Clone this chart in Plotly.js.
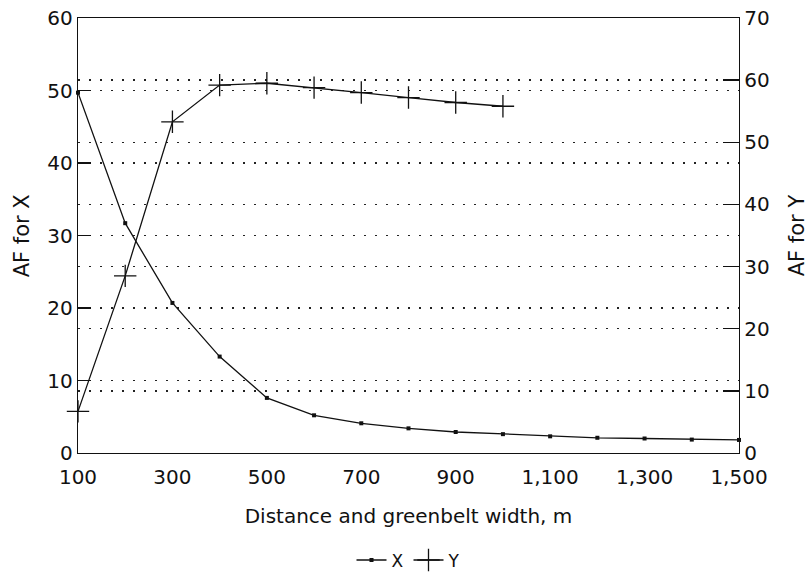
<!DOCTYPE html>
<html>
<head>
<meta charset="utf-8">
<script src="https://cdn.plot.ly/plotly-3.0.1.min.js"></script>
<style>html,body{margin:0;padding:0;background:#fff;}#chart{width:811px;height:573px;}</style>
</head>
<body>
<div id="chart"></div>
<script>
// Distance and greenbelt width, m
const distanceX = [100, 200, 300, 400, 500, 600, 700, 800, 900, 1000, 1100, 1200, 1300, 1400, 1500];
const afX = [49.7, 31.7, 20.7, 13.3, 7.6, 5.2, 4.1, 3.4, 2.9, 2.6, 2.3, 2.1, 2.0, 1.85, 1.8];
const distanceY = [100, 200, 300, 400, 500, 600, 700, 800, 900, 1000];
const afY = [6.7, 28.5, 53.3, 59.2, 59.5, 58.8, 58.0, 57.2, 56.4, 55.8];
const xTickVals = [100, 300, 500, 700, 900, 1100, 1300, 1500];
const xTickText = ["100", "300", "500", "700", "900", "1,100", "1,300", "1,500"];
const leftTicks = [0, 10, 20, 30, 40, 50, 60];
const rightTicks = [0, 10, 20, 30, 40, 50, 60, 70];

const FONT = "DejaVu Sans, Verdana, sans-serif";

const traces = [
  {
    x: distanceX, y: afX, name: "X", type: "scatter", mode: "lines+markers",
    line: {color: "#111", width: 1.3},
    marker: {symbol: "square", size: 4, color: "#111"},
    cliponaxis: false
  },
  {
    x: distanceY, y: afY, name: "Y", type: "scatter", mode: "lines+markers", yaxis: "y2",
    line: {color: "#111", width: 1.3},
    marker: {symbol: "cross-thin", size: 16, line: {color: "#111", width: 1.3}},
    cliponaxis: false
  }
];

const gridCommon = {
  showgrid: true, gridcolor: "#222", gridwidth: 1.3, griddash: "2px,9px"
};

const layout = {
  width: 811, height: 573,
  margin: {l: 78, r: 72, t: 18, b: 120, autoexpand: false},
  paper_bgcolor: "#fff", plot_bgcolor: "#fff",
  font: {family: FONT, color: "#111", size: 20},
  showlegend: true,
  legend: {
    orientation: "h", x: 0.5, xanchor: "center", y: -0.247, yanchor: "middle",
    font: {size: 17}, itemwidth: 30, tracegroupgap: 0
  },
  annotations: [{
    text: "AF for X", textangle: -90, xref: "paper", yref: "paper",
    x: -0.085, y: 0.5, xanchor: "center", yanchor: "middle",
    showarrow: false, font: {size: 21, family: FONT, color: "#111"}
  }],
  xaxis: {
    range: [100, 1500], tickvals: xTickVals, ticktext: xTickText,
    ticks: "", showgrid: false, zeroline: false, automargin: false,
    showline: true, linecolor: "#111", linewidth: 1.3, mirror: true,
    tickfont: {size: 20}, ticklabelstandoff: 6,
    title: {text: "Distance and greenbelt width, m", font: {size: 20}, standoff: 20}
  },
  yaxis: Object.assign({
    range: [0, 60], tickvals: leftTicks, zeroline: false, automargin: false,
    showline: true, linecolor: "#111", linewidth: 1.3,
    ticks: "inside", ticklen: 13, tickwidth: 1.3, tickcolor: "#111",
    tickfont: {size: 20}
  }, gridCommon),
  yaxis2: Object.assign({
    range: [0, 70], tickvals: rightTicks, overlaying: "y", side: "right", zeroline: false, automargin: false,
    showline: true, linecolor: "#111", linewidth: 1.3,
    ticks: "inside", ticklen: 16, tickwidth: 1.3, tickcolor: "#111",
    tickfont: {size: 20},
    title: {text: "AF for Y", font: {size: 21}, standoff: 20}
  }, gridCommon)
};

Plotly.newPlot("chart", traces, layout, {displayModeBar: false, staticPlot: true});
</script>
</body>
</html>
